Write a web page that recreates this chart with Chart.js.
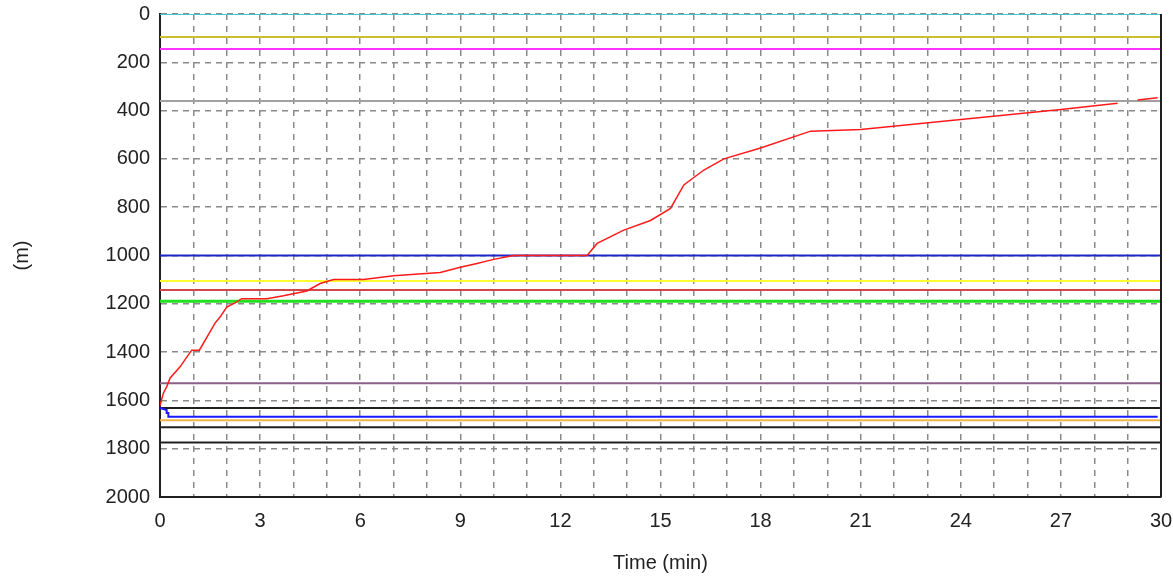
<!DOCTYPE html>
<html>
<head>
<meta charset="utf-8">
<script src="https://cdn.jsdelivr.net/npm/chart.js@4/dist/chart.umd.min.js"></script>
<style>
  html, body { margin: 0; padding: 0; background: #fff; }
  #wrap { width: 1173px; height: 577px; }
</style>
</head>
<body>
<div id="wrap"><canvas id="depthChart" width="1173" height="577"></canvas></div>
<script>
// red trace: time (min) / depth (m)
const traceTime = [0, 0.1, 0.2, 0.3, 0.6, 0.95, 1.18, 1.65, 1.8, 2.0, 2.25, 2.45, 3.2, 3.7, 4.4, 4.8, 5.2, 6.1, 7.0, 8.4, 9.0, 9.5, 10.0, 10.4, 10.6, 12.8, 13.1, 13.9, 14.7, 15.3, 15.7, 16.3, 16.9, 18.0, 19.5, 21.0, 24.0, 27.0, 28.7, 28.75, 29.3, 29.9];
const traceDepth = [1622, 1570, 1544, 1508, 1461, 1392, 1392, 1280, 1255, 1214, 1196, 1179, 1179, 1167, 1147, 1116, 1099, 1099, 1084, 1070, 1049, 1033, 1016, 1005, 1000, 1000, 950, 895, 855, 805, 708, 646, 600, 555, 485, 478, 437, 395, 370, null, 356, 347];

// blue stepped trace near the bottom
const blueTime = [0, 0.2, 0.2, 0.25, 0.25, 29.9];
const blueDepth = [1631, 1640, 1652, 1652, 1668, 1668];

// fixed horizontal levels (m)
const levelDepth = [0, 95, 145, 360, 1000, 1106, 1143, 1189, 1529, 1631, 1682, 1711, 1774];
const levelColor = ["#3ec8cc", "#c8c030", "#ff33ff", "#a0a0a0", "#1e28c8", "#ffff30", "#d04848", "#22e022", "#886088", "#202020", "#f0b448", "#202020", "#202020"];
const levelWidth = [2, 2, 2, 2, 2, 2, 2, 3, 2, 2, 2, 2, 2];

const timeMin = 0, timeMax = 30;
const depthTicks = [0, 200, 400, 600, 800, 1000, 1200, 1400, 1600, 1800, 2000];

const datasets = [];
levelDepth.forEach((d, i) => {
  datasets.push({
    data: [{ x: timeMin, y: d }, { x: timeMax, y: d }],
    borderColor: levelColor[i],
    borderWidth: levelWidth[i],
    pointRadius: 0,
    order: 2
  });
});
datasets.push({
  data: blueTime.map((t, i) => ({ x: t, y: blueDepth[i] })),
  borderColor: "#1a1aff",
  borderWidth: 2,
  pointRadius: 0,
  order: 1
});
datasets.push({
  data: traceTime.map((t, i) => ({ x: t, y: traceDepth[i] })),
  borderColor: "#ff1a1a",
  borderWidth: 1.5,
  pointRadius: 0,
  spanGaps: false,
  order: 0
});

// right-hand frame line
const frameRight = {
  id: "frameRight",
  afterDraw(chart) {
    const { ctx, chartArea } = chart;
    ctx.save();
    ctx.strokeStyle = "#202020";
    ctx.lineWidth = 2;
    ctx.beginPath();
    ctx.moveTo(chartArea.right, chartArea.top);
    ctx.lineTo(chartArea.right, chartArea.bottom);
    ctx.stroke();
    ctx.restore();
  }
};

const font = { family: "'Liberation Sans', Arial, sans-serif", size: 20 };

new Chart(document.getElementById("depthChart"), {
  type: "line",
  data: { datasets },
  plugins: [frameRight],
  options: {
    responsive: false,
    animation: false,
    layout: { padding: { top: 14, right: 12, left: 0, bottom: 0 } },
    plugins: { legend: { display: false }, tooltip: { enabled: false } },
    scales: {
      x: {
        type: "linear",
        min: timeMin,
        max: timeMax,
        afterFit(scale) {
          scale.height = 80;
          scale.paddingLeft = 0;
          scale.paddingRight = 0;
        },
        ticks: {
          stepSize: 1,
          autoSkip: false,
          maxRotation: 0,
          padding: 12,
          color: "#222",
          font,
          callback: v => (v % 3 === 0 ? String(v) : "")
        },
        grid: { color: "#8a8a8a", lineWidth: 1.5, drawTicks: false },
        border: { display: true, color: "#202020", width: 2, dash: [6, 6] },
        title: { display: true, text: "Time (min)", color: "#222", font, padding: { top: 0, bottom: 2 } }
      },
      y: {
        type: "linear",
        reverse: true,
        min: 0,
        max: 2000,
        afterFit(scale) {
          scale.width = 160;
          scale.paddingTop = 0;
          scale.paddingBottom = 0;
        },
        afterBuildTicks(scale) { scale.ticks = depthTicks.map(v => ({ value: v })); },
        ticks: { padding: 10, color: "#222", font, callback: v => String(v) },
        grid: { color: "#8a8a8a", lineWidth: 1.5, drawTicks: false },
        border: { display: true, color: "#202020", width: 2, dash: [6, 5] },
        title: { display: true, text: "(m)", color: "#222", font, padding: { top: 10, bottom: 0 } }
      }
    }
  }
});
</script>
</body>
</html>
